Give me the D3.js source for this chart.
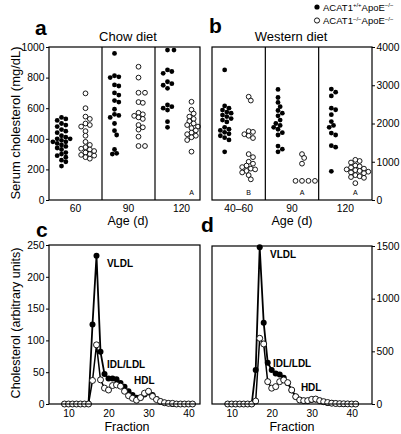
<!DOCTYPE html>
<html><head><meta charset="utf-8">
<script src="https://cdn.jsdelivr.net/npm/d3@7"></script>
<style>
body{margin:0;background:#fff}
svg{display:block}
text{font-family:"Liberation Sans",Arial,Helvetica,sans-serif;fill:#000}
</style>
</head><body>
<svg id="chart" width="401" height="434"></svg>
<script>
// ---------- DATA ----------
const chowAges = ["60", "90", "120"];
const westernAges = ["40–60", "90", "120"];
const chowLetters = ["", "", "A"];
const westernLetters = ["B", "A", "A"];

// Chow diet, serum cholesterol (mg/dL)
const chowWT60 = [540,530,520,500,490,480,460,450,440,420,410,400,400,390,380,380,370,360,350,340,330,310,300,290,280,260,250,222];
const chowKO60 = [697,600,545,530,500,490,480,450,420,380,360,345,335,330,320,310,300,295,290,280,270];
const chowWT90 = [958,812,805,800,752,745,700,686,650,640,593,560,553,540,500,453,425,330,305,300];
const chowKO90 = [871,800,701,701,640,635,570,560,550,540,530,490,475,460,414,353,353];
const chowWT120 = [980,980,850,840,828,773,760,750,730,621,610,600,588,512,475];
const chowKO120 = [642,590,565,545,530,515,500,490,480,470,455,440,430,420,410,392,316];

// Western diet, serum cholesterol (mg/dL)
const westWT4060 = [3400,2460,2400,2350,2300,2270,2220,2180,2130,2090,2040,1900,1850,1820,1770,1730,1680,1630,1570,1260];
const westKO4060 = [2700,2600,1800,1780,1720,1680,1620,1200,1120,1000,950,900,860,820,800,760,720,650,540];
const westWT90 = [2890,2680,2550,2440,2340,2270,2200,2090,2000,1950,1900,1850,1760,1700,1410,1330,1260];
const westKO90 = [1200,1100,950,500,500,500,500];
const westWT120 = [2900,2820,2720,2400,2360,2230,2050,1950,1900,1750,1700,1420,1380,750];
const westKO120 = [1050,1020,980,900,880,850,820,800,780,760,740,720,700,650,620,600,580,440];

// FPLC profiles
const fractions = [9,10,11,12,13,14,15,16,17,18,19,20,21,22,23,24,25,26,27,28,29,30,31,32,33,34,35,36,37,38,39,40,41];
const chowFplcWT = [0,0,0,0,0,0,0,125,233,82,47,40,40,39,33,27,20,14,10,10,15,18,14,8,4,2,1,0,0,0,0,0,0];
const chowFplcKO = [0,0,0,0,0,0,0,37,93,38,25,22,29,30,28,20,13,9,6,10,17,20,12,7,4,2,1,1,0,0,0,0,0];
const westFplcWT = [0,0,0,0,0,0,0,323,1488,772,392,323,290,280,250,200,130,70,40,30,30,40,42,30,20,10,6,4,2,0,0,0,0];
const westFplcKO = [0,0,0,0,0,0,0,28,624,570,212,150,165,212,228,203,133,70,38,32,32,44,47,32,22,14,8,5,3,2,1,0,0];

const yTicksA = [0,200,400,600,800,1000];
const yTicksB = [0,1000,2000,3000,4000];
const yTicksC = [0,50,100,150,200,250];
const yTicksD = [0,500,1000,1500];
const xTicksCD = [10,20,30,40];

// ---------- DRAW ----------
const svg = d3.select("#chart");
const FONT_TICK = 10.3;
const fmt = d3.format("d");

const yA = d3.scaleLinear([0,1000],[200,47]);
const yB = d3.scaleLinear([0,4000],[200,47]);
const xA = d3.scaleBand(chowAges,[49,208]);
const xB = d3.scaleBand(westernAges,[212,372]);
const xC = d3.scaleLinear([10,40],[68.5,188.5]);
const yC = d3.scaleLinear([0,250],[404,245]);
const xD = d3.scaleLinear([10,40],[231.7,351.7]);
const yD = d3.scaleLinear([0,1500],[404,246]);

function styleAxis(g){
  g.select(".domain").remove();
  g.selectAll("line").attr("stroke","#000").attr("stroke-width",1);
  g.selectAll("text").attr("font-size",FONT_TICK).attr("fill","#000")
    .attr("font-family","'Liberation Sans',Arial,sans-serif");
}

function frame(x0,x1,y0,y1){
  svg.append("rect").attr("x",x0).attr("y",y0).attr("width",x1-x0).attr("height",y1-y0)
    .attr("fill","none").attr("stroke","#000").attr("stroke-width",1.2);
}

function swarm(values, yScale, cx, r){
  const pts = values.map(v=>({v, y:yScale(v)})).sort((a,b)=>a.y-b.y);
  const placed = [];
  const minD = r*1.8, step = r*0.9;
  for(const d of pts){
    let bx = null;
    for(let k=0;k<60 && bx===null;k++){
      const offs = k===0?[0]:[k*step,-k*step];
      for(const o of offs){
        const x = cx+o;
        if(placed.every(p=>(p.x-x)**2+(p.y-d.y)**2>=minD*minD)){bx=x;break;}
      }
    }
    d.x = bx; placed.push(d);
  }
  return pts;
}

function scatterPanel(xS, yS, groups, wt, ko, letters, x0, x1){
  const r = 2.4;
  groups.forEach((g,i)=>{
    const c = xS(g)+xS.bandwidth()/2;
    if(i>0){
      svg.append("line").attr("x1",xS(g)).attr("x2",xS(g)).attr("y1",yS.range()[1]).attr("y2",yS.range()[0])
        .attr("stroke","#000").attr("stroke-width",1.2);
    }
    svg.append("g").selectAll("circle").data(swarm(wt[i],yS,c-14,r)).join("circle")
      .attr("cx",d=>d.x).attr("cy",d=>d.y).attr("r",r).attr("fill","#000");
    svg.append("g").selectAll("circle").data(swarm(ko[i],yS,c+10,r)).join("circle")
      .attr("cx",d=>d.x).attr("cy",d=>d.y).attr("r",r).attr("fill","#fff").attr("stroke","#000").attr("stroke-width",0.9);
    if(letters[i]){
      svg.append("text").attr("x",c+10).attr("y",195).attr("text-anchor","middle")
        .attr("font-size",7).text(letters[i]);
    }
  });
  frame(x0,x1,yS.range()[1],yS.range()[0]);
  svg.append("g").attr("transform",`translate(0,${yS.range()[0]})`)
    .call(d3.axisBottom(xS).tickSize(0).tickPadding(5)).call(styleAxis);
}

// Panel a
scatterPanel(xA,yA,chowAges,[chowWT60,chowWT90,chowWT120],[chowKO60,chowKO90,chowKO120],chowLetters,49,200);
svg.append("g").attr("transform","translate(49,0)")
  .call(d3.axisLeft(yA).tickValues(yTicksA).tickFormat(fmt).tickSize(3).tickPadding(1.5)).call(styleAxis);

// Panel b
scatterPanel(xB,yB,westernAges,[westWT4060,westWT90,westWT120],[westKO4060,westKO90,westKO120],westernLetters,212,372);
svg.append("g").attr("transform","translate(372,0)")
  .call(d3.axisRight(yB).tickValues(yTicksB).tickFormat(fmt).tickSize(3).tickPadding(1.5)).call(styleAxis);

// FPLC panels
function fplcPanel(xS, yS, wt, ko, x0, x1){
  const line = d3.line().x((d,i)=>xS(fractions[i])).y(d=>yS(d));
  svg.append("path").attr("d",line(wt)).attr("fill","none").attr("stroke","#000").attr("stroke-width",1.8);
  svg.append("path").attr("d",line(ko)).attr("fill","none").attr("stroke","#000").attr("stroke-width",1.5);
  svg.append("g").selectAll("circle").data(wt).join("circle")
    .attr("cx",(d,i)=>xS(fractions[i])).attr("cy",d=>yS(d)).attr("r",3).attr("fill","#000");
  svg.append("g").selectAll("circle").data(ko).join("circle")
    .attr("cx",(d,i)=>xS(fractions[i])).attr("cy",d=>yS(d)).attr("r",3)
    .attr("fill","#fff").attr("stroke","#000").attr("stroke-width",0.9);
  frame(x0,x1,yS.range()[1],yS.range()[0]);
  svg.append("g").attr("transform",`translate(0,${yS.range()[0]})`)
    .call(d3.axisBottom(xS).tickValues(xTicksCD).tickSize(0).tickPadding(6)).call(styleAxis);
}
fplcPanel(xC,yC,chowFplcWT,chowFplcKO,49,200);
svg.append("g").attr("transform","translate(49,0)")
  .call(d3.axisLeft(yC).tickValues(yTicksC).tickFormat(fmt).tickSize(3).tickPadding(1.5)).call(styleAxis);
fplcPanel(xD,yD,westFplcWT,westFplcKO,212,372);
svg.append("g").attr("transform","translate(372,0)")
  .call(d3.axisRight(yD).tickValues(yTicksD).tickFormat(fmt).tickSize(3).tickPadding(1.5)).call(styleAxis);

// Lipoprotein labels
function bold(x,y,t){ svg.append("text").attr("x",x).attr("y",y).attr("font-size",10).attr("font-weight","bold").text(t); }
bold(xC(19.6),yC(215),"VLDL");
bold(xC(19.6),yC(56),"IDL/LDL");
bold(xC(26.4),yC(31),"HDL");
bold(xD(19.6),yD(1382),"VLDL");
bold(xD(20.3),yD(351),"IDL/LDL");
bold(xD(27.3),yD(123),"HDL");

// Titles and axis titles
function txt(x,y,t,size,opts={}){
  const e = svg.append("text").attr("x",x).attr("y",y).attr("font-size",size).text(t);
  if(opts.anchor) e.attr("text-anchor",opts.anchor);
  if(opts.weight) e.attr("font-weight",opts.weight);
  return e;
}
txt(128,41,"Chow diet",13,{anchor:"middle"});
txt(291,41,"Western diet",13,{anchor:"middle"});
txt(128,225,"Age (d)",12.5,{anchor:"middle"});
txt(292,225,"Age (d)",12.5,{anchor:"middle"});
txt(127,431,"Fraction",12.5,{anchor:"middle"});
txt(292,431,"Fraction",12.5,{anchor:"middle"});
txt(35,35,"a",21,{weight:"bold"});
txt(209,33,"b",21,{weight:"bold"});
txt(36,237,"c",21,{weight:"bold"});
txt(201,232,"d",21,{weight:"bold"});

svg.append("text").attr("transform","translate(20,123) rotate(-90)").attr("text-anchor","middle")
  .attr("font-size",13).text("Serum cholesterol (mg/dL)");
svg.append("text").attr("transform","translate(20,323) rotate(-90)").attr("text-anchor","middle")
  .attr("font-size",12.5).text("Cholesterol (arbitrary units)");

// Legend
svg.append("circle").attr("cx",317).attr("cy",7).attr("r",2.6).attr("fill","#000");
svg.append("circle").attr("cx",317).attr("cy",20.5).attr("r",2.6).attr("fill","#fff").attr("stroke","#000").attr("stroke-width",0.9);
function legendText(y,s1,s2){
  const t = svg.append("text").attr("x",323).attr("y",y).attr("font-size",9.5);
  t.append("tspan").text("ACAT1");
  t.append("tspan").attr("font-size",6).attr("dy",-3.5).text(s1);
  t.append("tspan").attr("dy",3.5).text("ApoE");
  t.append("tspan").attr("font-size",6).attr("dy",-3.5).text(s2);
}
legendText(10.5,"+/+","−/−");
legendText(24,"−/−","−/−");
</script>
</body></html>
